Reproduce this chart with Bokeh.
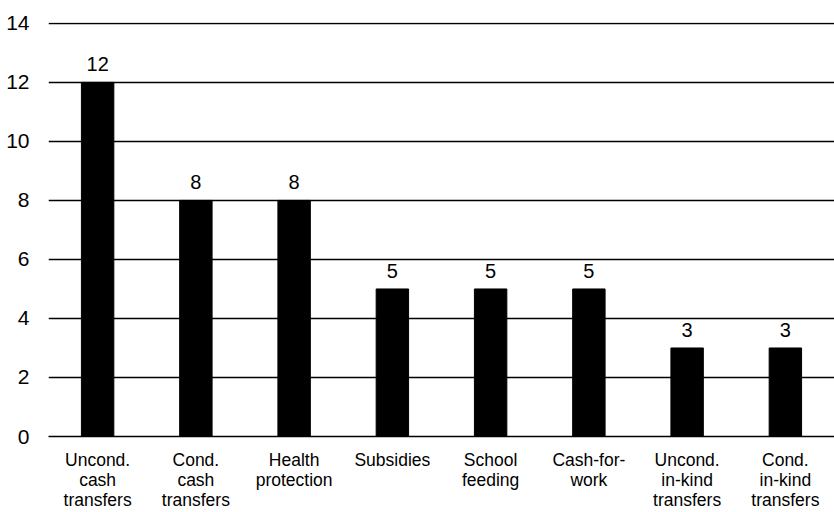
from bokeh.plotting import figure
from bokeh.models import ColumnDataSource, FactorRange, SingleIntervalTicker
from bokeh.core.properties import value
from bokeh.embed import file_html
from bokeh.resources import INLINE

# Number of programmes by type of social protection instrument
categories = [
    "Uncond.\ncash\ntransfers",
    "Cond.\ncash\ntransfers",
    "Health\nprotection",
    "Subsidies",
    "School\nfeeding",
    "Cash-for-\nwork",
    "Uncond.\nin-kind\ntransfers",
    "Cond.\nin-kind\ntransfers",
]
counts = [12, 8, 8, 5, 5, 5, 3, 3]
count_labels = [str(c) for c in counts]

FONT = "Liberation Sans"

source = ColumnDataSource(data=dict(cat=categories, val=counts, lab=count_labels))

p = figure(
    x_range=FactorRange(*categories, range_padding=0.0),
    y_range=(0, 14.03),
    width=834,
    height=512,
    output_backend="svg",
    toolbar_location=None,
    min_border_left=48,
    min_border_right=0,
    min_border_top=22,
    min_border_bottom=75,
)
p.x_range.factor_padding = 0.0
p.outline_line_color = None
p.background_fill_color = "white"
p.border_fill_color = "white"

p.vbar(x="cat", top="val", width=0.33, source=source,
       fill_color="black", line_color="black")

p.text(x="cat", y="val", text="lab", source=source,
       text_align="center", text_baseline="bottom", y_offset=-11,
       text_font=value(FONT), text_font_size="20px", text_color="black")

# axes
p.yaxis.ticker = SingleIntervalTicker(interval=2)
p.yaxis.axis_line_color = None
p.yaxis.major_tick_line_color = None
p.yaxis.minor_tick_line_color = None
p.yaxis.major_label_text_font = FONT
p.yaxis.major_label_text_font_size = "21px"
p.yaxis.major_label_text_color = "black"
p.yaxis.major_label_standoff = 13

p.xaxis.axis_line_color = "black"
p.xaxis.axis_line_width = 1.5
p.xaxis.major_tick_line_color = None
p.xaxis.minor_tick_line_color = None
p.xaxis.major_label_text_font = FONT
p.xaxis.major_label_text_font_size = "17.5px"
p.xaxis.major_label_text_color = "black"
p.xaxis.major_label_text_line_height = 1.0
p.xaxis.major_label_standoff = 7

p.xgrid.grid_line_color = None
p.ygrid.grid_line_color = "black"
p.ygrid.grid_line_width = 1.5
p.ygrid.level = "underlay"

open("out.html", "w").write(file_html(p, INLINE))
